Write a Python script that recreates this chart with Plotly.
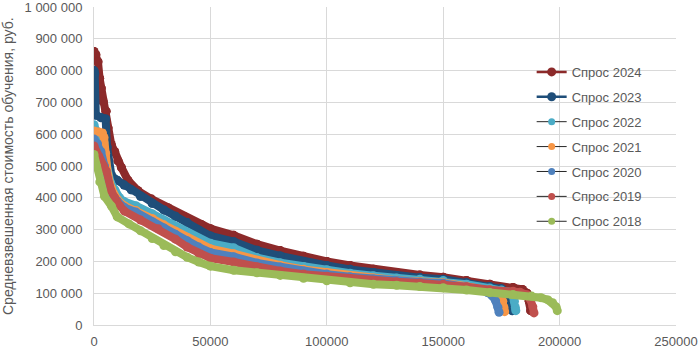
import plotly.graph_objects as go

# ---- data ----
names = ["Спрос 2024", "Спрос 2023", "Спрос 2022", "Спрос 2021", "Спрос 2020", "Спрос 2019", "Спрос 2018"]

x_2024 = [0, 800, 1700, 2400, 3100, 3900, 5200, 6000, 7400, 8900, 10300, 11800, 14600, 18900, 24700, 31900, 39000,
          46000, 50000, 60000, 70000, 80000, 90000, 100000, 110000, 120000, 130000, 140000, 150000, 160000, 170000,
          180000, 184000, 186000, 187000, 187600]
y_2024 = [860000, 850000, 828000, 776000, 745000, 703000, 672000, 620000, 568000, 545000, 516000, 495000, 455000,
          422000, 396000, 368000, 340000, 316000, 303000, 282000, 254000, 234000, 216000, 200000, 187000, 175000,
          165000, 157000, 150000, 140000, 128000, 118000, 112000, 100000, 75000, 45000]

x_2023 = [0, 300, 800, 3000, 5000, 5600, 6300, 7500, 10000, 13000, 16000, 20000, 25000, 30000, 35000, 40000, 45000,
          50000, 60000, 70000, 80000, 90000, 100000, 110000, 120000, 130000, 140000, 150000, 160000, 170000, 175000,
          177000, 178500, 179200, 179600]
y_2023 = [800000, 790000, 660000, 652000, 648000, 560000, 500000, 470000, 455000, 440000, 425000, 405000, 383000,
          362000, 342000, 322000, 298000, 280000, 262000, 235000, 217000, 200000, 187000, 175000, 165000, 155000,
          149000, 144000, 133000, 121000, 114000, 105000, 85000, 62000, 45000]

x_2022 = [0, 1000, 3000, 4300, 5000, 5700, 7000, 9000, 11000, 13000, 18000, 25000, 30000, 35000, 40000, 45000,
          50000, 60000, 70000, 80000, 90000, 100000, 110000, 120000, 130000, 140000, 150000, 160000, 170000, 175000,
          178000, 179800, 180600, 181000, 181200]
y_2022 = [630000, 610000, 590000, 573000, 520000, 484000, 450000, 425000, 400000, 388000, 375000, 350000, 330000,
          310000, 290000, 272000, 257000, 243000, 212000, 196000, 184000, 174000, 163000, 155000, 148000, 144000,
          140000, 128000, 116000, 110000, 104000, 95000, 75000, 55000, 45000]

x_2021 = [0, 2000, 3600, 4300, 5000, 6000, 7500, 10000, 13000, 18000, 25000, 30000, 35000, 40000, 45000, 50000,
          60000, 70000, 80000, 90000, 100000, 110000, 120000, 130000, 140000, 150000, 160000, 170000, 172500,
          174500, 175600, 176100, 176400]
y_2021 = [610000, 607000, 604000, 590000, 540000, 470000, 430000, 395000, 375000, 360000, 335000, 315000, 295000,
          275000, 255000, 240000, 224000, 203000, 188000, 175000, 165000, 156000, 148000, 141000, 137000, 133000,
          122000, 110000, 104000, 95000, 75000, 55000, 42000]

x_2020 = [0, 1500, 3000, 4500, 6000, 7500, 10000, 13000, 18000, 25000, 30000, 35000, 40000, 45000, 50000, 60000,
          70000, 80000, 90000, 100000, 110000, 120000, 130000, 140000, 150000, 160000, 166000, 169000, 171000,
          172500, 173500, 174000]
y_2020 = [585000, 570000, 545000, 500000, 450000, 415000, 390000, 370000, 355000, 325000, 305000, 285000, 265000,
          245000, 228000, 215000, 195000, 182000, 170000, 160000, 152000, 145000, 139000, 135000, 131000, 120000,
          112000, 102000, 92000, 76000, 56000, 40000]

x_2019 = [0, 2000, 4000, 5300, 7400, 8800, 11000, 13100, 20000, 27500, 35000, 40000, 45000, 50000, 60000, 70000,
          80000, 90000, 100000, 110000, 120000, 130000, 140000, 150000, 160000, 170000, 180000, 183000, 186000,
          187500, 188500, 189000]
y_2019 = [563000, 530000, 500000, 484000, 421000, 400000, 375000, 358000, 330000, 303000, 270000, 245000, 225000,
          210000, 198000, 182000, 170000, 160000, 153000, 146000, 141000, 136000, 132000, 128000, 120000, 111000,
          106000, 103000, 95000, 80000, 57000, 38000]

x_2018 = [0, 1000, 2500, 4500, 7500, 10000, 15000, 20000, 25000, 30000, 35000, 40000, 45000, 50000, 60000, 70000,
          80000, 90000, 100000, 110000, 120000, 130000, 140000, 150000, 160000, 170000, 180000, 188000, 192000,
          195000, 197000, 198500, 199000]
y_2018 = [536000, 500000, 450000, 405000, 374000, 340000, 318000, 296000, 272000, 250000, 230000, 213000, 198000,
          185000, 172000, 164000, 156000, 147000, 139000, 133000, 128000, 125000, 121000, 117000, 110000, 102000,
          96000, 91000, 86000, 79000, 70000, 57000, 45000]

xs = [x_2024, x_2023, x_2022, x_2021, x_2020, x_2019, x_2018]
ys = [y_2024, y_2023, y_2022, y_2021, y_2020, y_2019, y_2018]

x_ticks = [0, 50000, 100000, 150000, 200000, 250000]
y_ticks = [0, 100000, 200000, 300000, 400000, 500000, 600000, 700000, 800000, 900000, 1000000]
y_title = "Средневзвешенная стоимость обучения, руб."

# ---- styles ----
colors = ["#8C2A2A", "#1F4E79", "#4BACC6", "#F79646", "#4F81BD", "#C0504D", "#9BBB59"]
line_colors = ["#8C2A2A", "#1F4E79", "#262626", "#262626", "#262626", "#262626", "#262626"]
line_widths = [2.5, 2.5, 1, 1, 1, 1, 1]
legend_marker = [9, 9, 7, 7, 7, 7, 7]

FONT = "'Liberation Sans', Arial, sans-serif"
GREY = "#595959"
GRID = "#D9D9D9"

fig = go.Figure()
for i, nm in enumerate(names):
    fig.add_trace(go.Scatter(
        x=xs[i], y=ys[i], mode="lines+markers", name=nm, legendgroup=nm,
        line=dict(color=line_colors[i], width=line_widths[i]),
        marker=dict(color=colors[i], size=legend_marker[i]),
        hoverinfo="skip"))
    fig.add_trace(go.Scatter(
        x=xs[i], y=ys[i], mode="lines+markers", name=nm, legendgroup=nm, showlegend=False,
        line=dict(color=colors[i], width=8),
        marker=dict(color=colors[i], size=9),
        hoverinfo="skip"))

fig.update_layout(
    width=699, height=350,
    margin=dict(l=94, r=23, t=7, b=25),
    paper_bgcolor="white", plot_bgcolor="white",
    separators=", ",
    font=dict(family=FONT, size=13, color=GREY),
    showlegend=True,
    legend=dict(
        x=0.752, y=0.843, xanchor="left", yanchor="top",
        bgcolor="rgba(0,0,0,0)", traceorder="grouped", tracegroupgap=5,
        font=dict(family=FONT, size=13, color=GREY),
    ),
    annotations=[dict(
        text=y_title, textangle=-90, xref="paper", yref="paper",
        x=(8 - 94) / 582, y=0.5, xanchor="center", yanchor="middle",
        showarrow=False, font=dict(family=FONT, size=14, color=GREY),
    )],
)
fig.update_xaxes(
    range=[0, 250000], tickvals=x_ticks, tickformat="d",
    showgrid=True, gridcolor=GRID, gridwidth=1,
    showline=True, linecolor=GRID, linewidth=1, zeroline=False,
    ticks="outside", ticklen=4, tickcolor="rgba(0,0,0,0)",
    tickfont=dict(family=FONT, size=13, color=GREY), automargin=False,
    ticklabeloverflow="allow",
)
fig.update_yaxes(
    range=[0, 1000000], tickvals=y_ticks, tickformat=",d",
    showgrid=True, gridcolor=GRID, gridwidth=1,
    showline=True, linecolor=GRID, linewidth=1, zeroline=False,
    ticks="outside", ticklen=8, tickcolor="rgba(0,0,0,0)",
    tickfont=dict(family=FONT, size=13, color=GREY), automargin=False,
    ticklabeloverflow="allow",
)

fig.write_html("out.html", config={"displayModeBar": False},
               post_script="document.body.style.margin='0';document.body.style.overflow='hidden';")
